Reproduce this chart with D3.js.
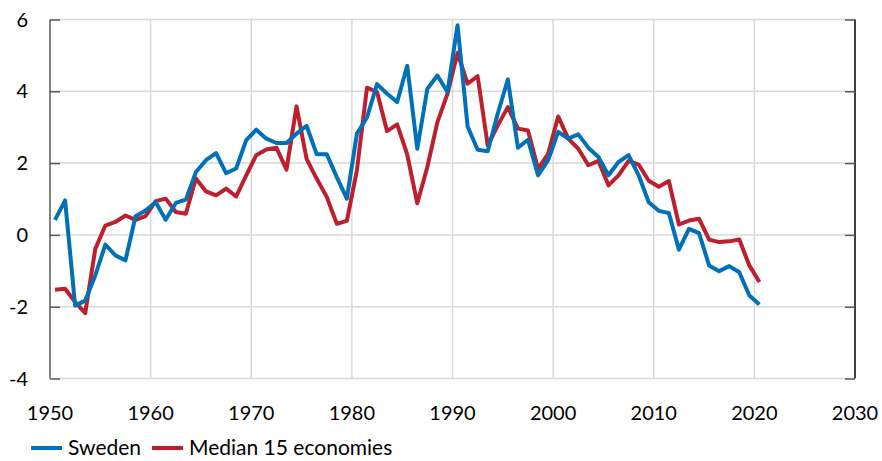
<!DOCTYPE html>
<html>
<head>
<meta charset="utf-8">
<script src="https://cdn.jsdelivr.net/npm/d3@7"></script>
<style>
  body { margin: 0; background: #fff; }
  svg text { font-family: Lato, "Open Sans", sans-serif; fill: #000; }
</style>
</head>
<body>
<svg id="chart"></svg>
<script>
// Years 1950-2020, values plotted mid-year
const years = d3.range(1950, 2021);

const sweden = [
  0.42, 0.96, -1.97, -1.83, -1.13, -0.27, -0.57, -0.71, 0.52, 0.68,
  0.91, 0.42, 0.89, 0.98, 1.75, 2.08, 2.28, 1.72, 1.85, 2.64,
  2.93, 2.68, 2.56, 2.56, 2.82, 3.04, 2.25, 2.25, 1.61, 1.01,
  2.82, 3.27, 4.20, 3.93, 3.70, 4.71, 2.40, 4.07, 4.44, 3.98,
  5.84, 3.02, 2.37, 2.33, 3.38, 4.33, 2.43, 2.65, 1.66, 2.08,
  2.87, 2.68, 2.80, 2.43, 2.17, 1.66, 2.03, 2.22, 1.66, 0.91,
  0.67, 0.61, -0.41, 0.17, 0.05, -0.85, -1.01, -0.87, -1.04, -1.69,
  -1.94
];

const median15 = [
  -1.53, -1.50, -1.87, -2.18, -0.39, 0.26, 0.36, 0.54, 0.42, 0.52,
  0.94, 1.01, 0.64, 0.59, 1.57, 1.21, 1.10, 1.29, 1.07, 1.66,
  2.22, 2.38, 2.43, 1.82, 3.58, 2.12, 1.57, 1.06, 0.31, 0.39,
  1.80, 4.10, 3.98, 2.89, 3.08, 2.24, 0.88, 1.89, 3.14, 3.93,
  5.07, 4.21, 4.42, 2.49, 3.05, 3.56, 2.96, 2.91, 1.84, 2.26,
  3.30, 2.68, 2.40, 1.94, 2.06, 1.38, 1.66, 2.06, 1.96, 1.51,
  1.34, 1.50, 0.29, 0.40, 0.45, -0.13, -0.20, -0.18, -0.13, -0.85,
  -1.31
];

const xTicks = [1950, 1960, 1970, 1980, 1990, 2000, 2010, 2020, 2030];
const yTicks = [-4, -2, 0, 2, 4, 6];

const seriesNames = ["Sweden", "Median 15 economies"];
const seriesColors = ["#0070b8", "#bc1f2e"];

const width = 882;
const height = 461;

const svg = d3.select("#chart")
    .attr("width", width)
    .attr("height", height);

const x = d3.scaleLinear().domain([1950, 2030]).range([50, 855]);
const y = d3.scaleLinear().domain([-4, 6]).range([378.5, 19.5]);

// grid lines
svg.append("g").selectAll("line")
    .data(yTicks)
    .enter().append("line")
    .attr("x1", x(1950)).attr("x2", x(2030))
    .attr("y1", d => y(d)).attr("y2", d => y(d))
    .attr("stroke", "#d9d9d9").attr("stroke-width", 1.5);

svg.append("g").selectAll("line")
    .data(xTicks.slice(1, -1))
    .enter().append("line")
    .attr("x1", d => x(d)).attr("x2", d => x(d))
    .attr("y1", y(6)).attr("y2", y(-4))
    .attr("stroke", "#d9d9d9").attr("stroke-width", 1.5);

// left axis
const yAxisLeft = d3.axisRight(y).tickValues(yTicks).tickSize(10).tickFormat("");
svg.append("g")
    .attr("transform", `translate(${x(1950)},0)`)
    .call(yAxisLeft)
    .call(g => g.selectAll("line, path").attr("stroke", "#595959").attr("stroke-width", 1.5))
    .call(g => g.select(".domain").attr("d", `M0,${y(6)}V${y(-4)}`));

// right axis
const yAxisRight = d3.axisLeft(y).tickValues(yTicks).tickSize(10).tickFormat("");
svg.append("g")
    .attr("transform", `translate(${x(2030)},0)`)
    .call(yAxisRight)
    .call(g => g.selectAll("line").attr("stroke", "#595959").attr("stroke-width", 1.5))
    .call(g => g.select(".domain").attr("stroke", "#000").attr("stroke-width", 1.5)
        .attr("d", `M0,${y(6)}V${y(-4)}`));

// y labels
svg.append("g").selectAll("text")
    .data(yTicks)
    .enter().append("text")
    .attr("x", 28)
    .attr("y", d => y(d))
    .attr("dy", "0.35em")
    .attr("text-anchor", "end")
    .attr("font-size", 20)
    .text(d => d);

// x labels
svg.append("g").selectAll("text")
    .data(xTicks)
    .enter().append("text")
    .attr("x", d => x(d))
    .attr("y", 413)
    .attr("dy", "0.35em")
    .attr("text-anchor", "middle")
    .attr("font-size", 20)
    .text(d => d);

// lines
const line = d3.line()
    .x((d, i) => x(years[i] + 0.5))
    .y(d => y(d));

[median15, sweden].forEach((values, k) => {
    svg.append("path")
        .datum(values)
        .attr("fill", "none")
        .attr("stroke", seriesColors[1 - k])
        .attr("stroke-width", 4)
        .attr("stroke-linejoin", "round")
        .attr("d", line);
});

// legend
const legend = svg.append("g").attr("transform", "translate(31,448)");
const legendX = [0, 121];
seriesNames.forEach((name, i) => {
    const item = legend.append("g").attr("transform", `translate(${legendX[i]},0)`);
    item.append("line")
        .attr("x1", 0).attr("x2", 31)
        .attr("stroke", seriesColors[i]).attr("stroke-width", 4);
    item.append("text")
        .attr("x", 37)
        .attr("dy", "0.35em")
        .attr("font-size", 21)
        .text(name);
});
</script>
</body>
</html>
